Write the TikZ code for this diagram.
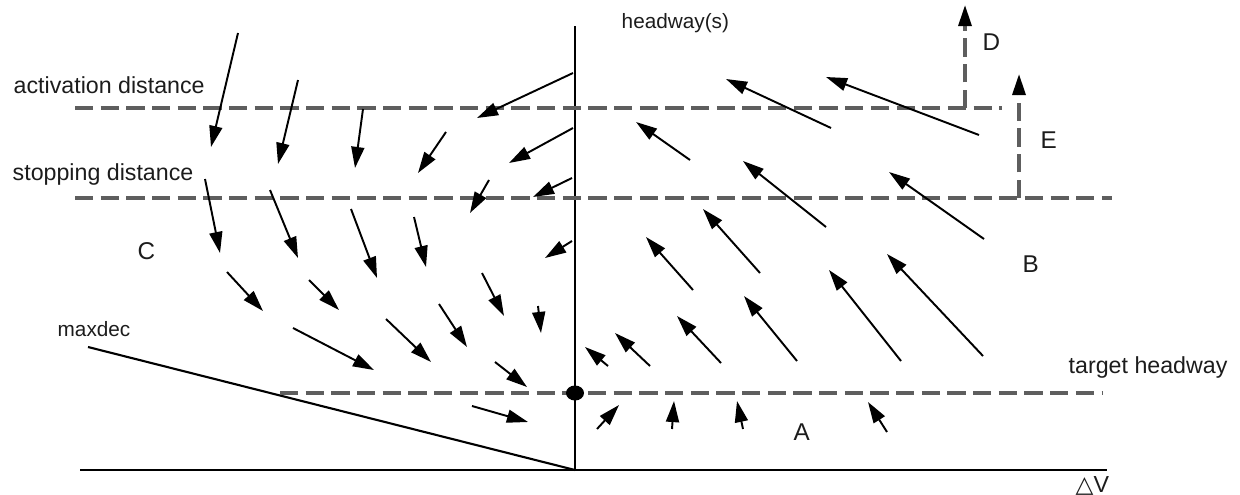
\documentclass[tikz,border=0pt]{standalone}
\usepackage{fontspec}
\setmainfont{Liberation Sans}
\newfontfamily\symfont{DejaVu Sans}
\usetikzlibrary{arrows.meta}
\definecolor{HWInk}{HTML}{000000}
\definecolor{HWGuide}{HTML}{5E5E5E}
\definecolor{HWText}{HTML}{1C1C1C}
\tikzset{
  vec/.style={-{Triangle[length=6pt,width=3.7pt]},HWInk,line width=0.55pt},
  axis/.style={HWInk,line width=0.6pt},
  guide/.style={HWGuide,line width=0.95pt,dash pattern=on 5.2pt off 2.1pt},
  guidevec/.style={guide,-{Triangle[length=6pt,width=3.7pt,color=HWInk]}},
  label/.style={text=HWText,font=\fontsize{6.6}{8}\selectfont,inner sep=0pt},
  smalllabel/.style={label,font=\fontsize{5.9}{7}\selectfont},
  region/.style={label,font=\fontsize{6.9}{8}\selectfont},
}
\begin{document}
\begin{tikzpicture}[x=.01cm,y=-.01cm]
  \useasboundingbox (0,0) rectangle (1240,494);

  % axes and limits
  \coordinate (origin) at (575,470);
  \coordinate (ytop) at (575,26);
  \coordinate (xleft) at (80,470);
  \coordinate (xright) at (1107,470);
  \coordinate (maxdec) at (88,347);
  \draw[axis] (xleft) -- (xright);
  \draw[axis] (origin) -- (ytop);
  \draw[axis] (maxdec) -- (origin);

  % guide lines
  \draw[guide] (75,108) -- (1002,108);
  \draw[guide] (75,198) -- (1112,198);
  \draw[guide] (280,393) -- (1102,393);
  \draw[guidevec] (965,108) -- (965,5);
  \draw[guidevec] (1019,198) -- (1019,74);
  \fill[HWInk] (575,393) ellipse [x radius=0.9mm,y radius=0.75mm];

  % field, left of the axis
  \foreach \xa/\ya/\xb/\yb in {238/33/211/147, 298/80/278/164, 363/109/355/168,
      573/73/477/118, 446/132/418/173, 573/128/509/163, 489/180/470/213,
      572/178/533/197, 205/179/220/253, 270/190/298/258, 351/209/377/278,
      414/217/426/267, 572/241/545/258, 227/272/263/311, 309/280/339/310,
      293/328/374/370, 386/319/431/362, 439/304/467/347, 482/273/504/316,
      538/306/541/333, 495/362/527/387, 472/406/528/422}
    \draw[vec] (\xa,\ya) -- (\xb,\yb);

  % field, right of the axis
  \foreach \xa/\ya/\xb/\yb in {690/160/636/122, 831/128/726/79, 979/135/826/77,
      826/227/743/161, 984/239/889/172, 760/273/703/209, 693/290/646/237,
      608/366/585/347, 650/366/615/333, 721/363/677/316, 797/361/744/296,
      901/361/829/270, 983/356/887/254,
      597/429/619/405, 672/429/674/401, 743/429/737/401, 887/432/868/402}
    \draw[vec] (\xa,\ya) -- (\xb,\yb);

  % labels
  \node[label,anchor=base west] (act) at (13,93) {activation distance};
  \node[label,anchor=base west] (stop) at (12,180) {stopping distance};
  \node[smalllabel,anchor=base west] (dec) at (57,336) {maxdec};
  \node[smalllabel,anchor=base west] (hw) at (621,28) {headway(s)};
  \node[label,anchor=base west] (thw) at (1068,373) {target headway};
  \node[label,anchor=base west] (dv) at (1075,492) {{\symfont △}V};
  \node[region,anchor=base west] (rA) at (793,440) {A};
  \node[region,anchor=base west] (rB) at (1022,272) {B};
  \node[region,anchor=base west] (rC) at (137,259) {C};
  \node[region,anchor=base west] (rD) at (982,51) {D};
  \node[region,anchor=base west] (rE) at (1040,148) {E};
\end{tikzpicture}
\end{document}
